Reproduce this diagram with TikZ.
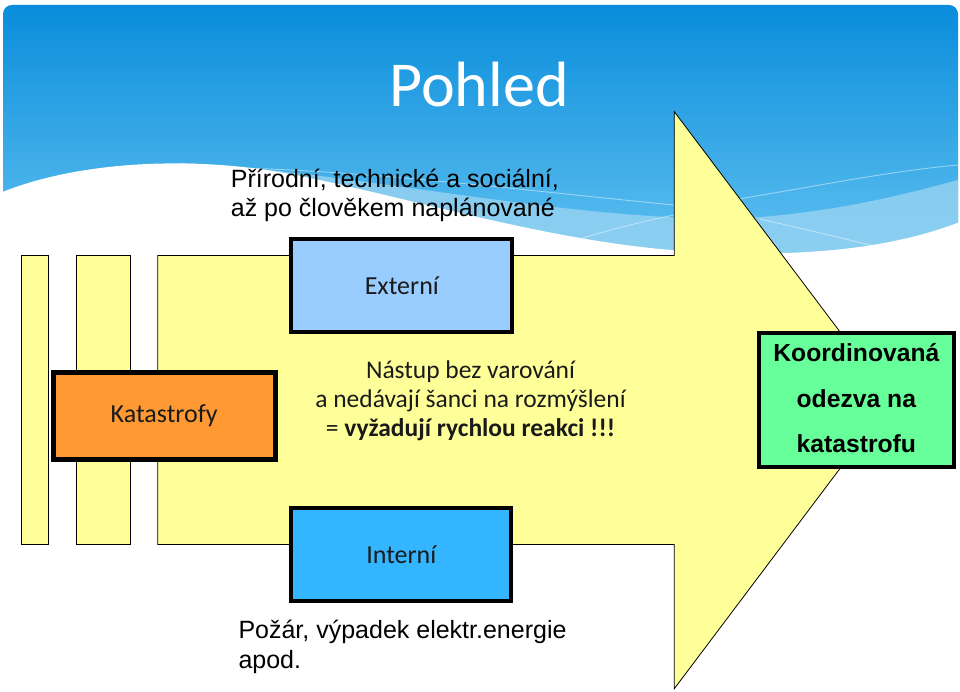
\documentclass[tikz,border=0pt]{standalone}
\usepackage{fontspec}
\newfontfamily\carlito{Carlito}
\newfontfamily\lsans{Liberation Sans}
\definecolor{blueTop}{HTML}{0A8DDB}
\definecolor{blueBot}{HTML}{62C2F1}
\definecolor{bandc}{HTML}{93D1F1}
\definecolor{yellowc}{HTML}{FFFF99}
\definecolor{extc}{HTML}{99CCFF}
\definecolor{intc}{HTML}{33B5FF}
\definecolor{katc}{HTML}{FF9933}
\definecolor{greenc}{HTML}{66FF99}
\definecolor{textc}{HTML}{1A1A1A}
\tikzset{
  ybar/.style={fill=yellowc, draw=black, line width=0.8pt},
  cbox/.style={draw=black, line width=4pt, inner sep=0pt, text=textc,
    font=\carlito\fontsize{26}{30}\selectfont},
  ltxt/.style={font=\lsans\fontsize{25}{30}\selectfont, anchor=base west, inner sep=0pt, text=black},
  ctxt/.style={font=\carlito\fontsize{25.5}{30}\selectfont, anchor=base, inner sep=0pt, text=textc},
  ktxt/.style={font=\lsans\bfseries\fontsize{24.7}{30}\selectfont, anchor=base, inner sep=0pt, text=black},
  streak/.style={draw=white, opacity=0.45, line width=0.9pt}
}
\begin{document}
\begin{tikzpicture}[x=1pt,y=-1pt]
\useasboundingbox (0,0) rectangle (960,692);
\fill[white] (0,0) rectangle (960,692);
% background
\shade[top color=blueTop, bottom color=blueBot, rounded corners=9pt]
  (3,265) -- (3,5) -- (958,5) -- (958,265) -- cycle;
\fill[bandc, opacity=0.85] (180,163) .. controls (350,170) and (600,228) .. (760,217)
  .. controls (850,210) and (920,190) .. (958,180) -- (958,262) -- (180,262) -- cycle;
\draw[streak] (240,168) .. controls (380,172) and (520,190) .. (674,205);
\draw[streak] (700,205) .. controls (800,190) and (880,172) .. (958,165);
\draw[streak] (560,245) .. controls (600,232) and (640,222) .. (674,215);
\draw[streak] (760,219) .. controls (800,228) and (850,240) .. (890,250);
\fill[white] (0,193) .. controls (80,160) and (200,155) .. (300,176)
  .. controls (420,200) and (560,245) .. (700,252)
  .. controls (820,258) and (900,245) .. (960,222) -- (960,692) -- (0,692) -- cycle;
% title
\node[font=\carlito\fontsize{64}{70}\selectfont, text=white, anchor=base, inner sep=0pt]
  (title) at (479,107) {Pohled};
% top text
\node[ltxt] (t1) at (230.7,188) {Přírodní, technické a sociální,};
\node[ltxt] (t2) at (230.7,217) {až po člověkem naplánované};
% bars and arrow
\path[ybar] (21.7,255.7) rectangle (48.7,544.2);
\path[ybar] (76,255.7) rectangle (130.3,544.2);
\path[ybar] (157.7,255.5) -- (674.3,255.5) -- (674.3,111.7) -- (891.4,400.2)
  -- (674.3,688.7) -- (674.3,544.5) -- (157.7,544.5) -- cycle;
% boxes
\node[cbox, fill=extc, minimum width=221pt, minimum height=93.3pt] (ext) at (401.8,285.35) {Externí};
\node[cbox, fill=intc, minimum width=220pt, minimum height=92.7pt] (int) at (401.3,554.35) {Interní};
\node[cbox, fill=katc, line width=5pt, minimum width=222pt, minimum height=86.7pt] (kat) at (164.2,415.85) {Katastrofy};
\node[cbox, fill=greenc, minimum width=195.3pt, minimum height=134.3pt] (koord) at (856.35,400.15) {};
\node[ktxt] (k1) at (856.35,361.7) {Koordinovaná};
\node[ktxt] (k2) at (856.35,407) {odezva na};
\node[ktxt] (k3) at (856.35,452) {katastrofu};
% middle text
\node[ctxt] (m1) at (470.5,378) {Nástup bez varování};
\node[ctxt] (m2) at (470.5,407) {a nedávají šanci na rozmýšlení};
\node[ctxt] (m3) at (470.5,436.5) {= \textbf{vyžadují rychlou reakci !!!}};
% bottom text
\node[ltxt] (b1) at (238.3,638.3) {Požár, výpadek elektr.energie};
\node[ltxt] (b2) at (238.3,668.3) {apod.};
\end{tikzpicture}
\end{document}
